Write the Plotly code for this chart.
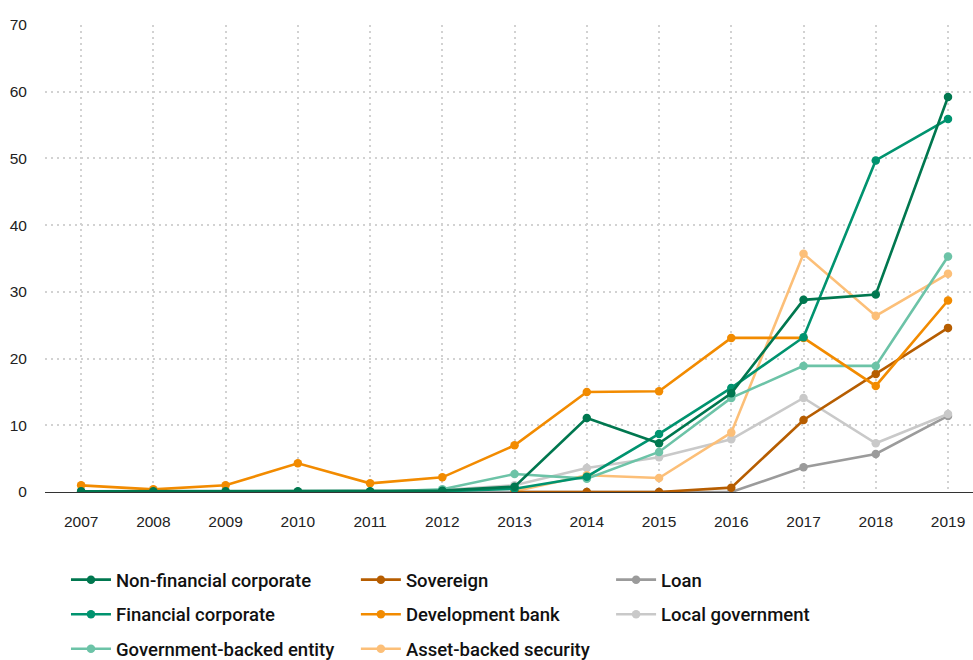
import plotly.graph_objects as go

years = list(range(2007, 2020))

non_financial = [0.1, 0.1, 0.1, 0.1, 0.1, 0.2, 0.8, 11.1, 7.3, 14.8, 28.8, 29.6, 59.2]
financial = [0.0, 0.0, 0.0, 0.0, 0.0, 0.1, 0.5, 2.3, 8.7, 15.6, 23.2, 49.7, 55.9]
gov_backed = [0.0, 0.0, 0.0, 0.0, 0.0, 0.4, 2.7, 2.0, 6.0, 14.1, 18.9, 18.9, 35.3]
sovereign = [None, None, None, None, None, None, 0.0, 0.0, 0.0, 0.65, 10.8, 17.7, 24.6]
dev_bank = [1.0, 0.4, 1.0, 4.3, 1.3, 2.2, 7.0, 15.0, 15.1, 23.1, 23.1, 15.9, 28.7]
asset_backed = [None, None, None, None, None, None, 0.1, 2.5, 2.1, 8.9, 35.7, 26.4, 32.7]
loan = [0.0, 0.0, 0.0, 0.0, 0.0, 0.0, 0.0, 0.0, 0.0, 0.0, 3.7, 5.7, 11.4]
local_gov = [0.0, 0.0, 0.0, 0.0, 0.0, 0.3, 1.0, 3.6, 5.2, 7.9, 14.1, 7.3, 11.7]

# (name, values, colour, legend, rank) in drawing order (bottom to top)
series = [
    ("Loan", loan, "#9b9b9b", "legend3", 1),
    ("Local government", local_gov, "#c9c9c9", "legend3", 2),
    ("Asset-backed security", asset_backed, "#fcbf78", "legend2", 3),
    ("Sovereign", sovereign, "#b65d00", "legend2", 1),
    ("Government-backed entity", gov_backed, "#6cc3a7", "legend", 3),
    ("Development bank", dev_bank, "#f28b00", "legend2", 2),
    ("Financial corporate", financial, "#00936f", "legend", 2),
    ("Non-financial corporate", non_financial, "#00774f", "legend", 1),
]

TICK_FONT = "Liberation Sans, Arial, Helvetica, sans-serif"
LEG_FONT = "Roboto, Liberation Sans, Arial, sans-serif"

fig = go.Figure()
for name, vals, col, lg, rank in series:
    fig.add_trace(go.Scatter(
        x=years, y=vals, name=name, mode="lines+markers",
        line=dict(color=col, width=2.6),
        marker=dict(color=col, size=8.5),
        legend=lg, legendrank=rank, legendgroup=name,
        connectgaps=False,
    ))

legend_common = dict(
    orientation="v", yanchor="top", xanchor="left", y=-0.148,
    font=dict(family=LEG_FONT, size=18.5, color="#111111", weight=500),
    tracegroupgap=7.5, bgcolor="rgba(0,0,0,0)", itemwidth=40,
)

fig.update_layout(
    width=973, height=660,
    margin=dict(l=45, r=0, t=25, b=168, autoexpand=False),
    paper_bgcolor="white", plot_bgcolor="white",
    font=dict(family=TICK_FONT, size=15.5, color="#222222"),
    showlegend=True,
    legend=dict(x=0.0226, **legend_common),
    legend2=dict(x=0.335, **legend_common),
    legend3=dict(x=0.610, **legend_common),
    xaxis=dict(
        range=[2006.5, 2019.346], tickmode="array", tickvals=years,
        ticktext=[str(y) for y in years],
        showgrid=True, gridcolor="#d2d2d2", griddash="2px,4px", gridwidth=2,
        zeroline=False, showline=False,
        ticks="outside", ticklen=15, tickcolor="rgba(0,0,0,0)",
        tickfont=dict(family=TICK_FONT, size=15.5, color="#222222"),
    ),
    yaxis=dict(
        range=[0, 70], dtick=10, tick0=0,
        showgrid=True, gridcolor="#d2d2d2", griddash="2px,4px", gridwidth=2,
        zeroline=True, zerolinecolor="#333333", zerolinewidth=1.2,
        showline=False,
        ticks="outside", ticklen=14, tickcolor="rgba(0,0,0,0)",
        tickfont=dict(family=TICK_FONT, size=15.5, color="#222222"),
    ),
)

fig.write_html("out.html")
